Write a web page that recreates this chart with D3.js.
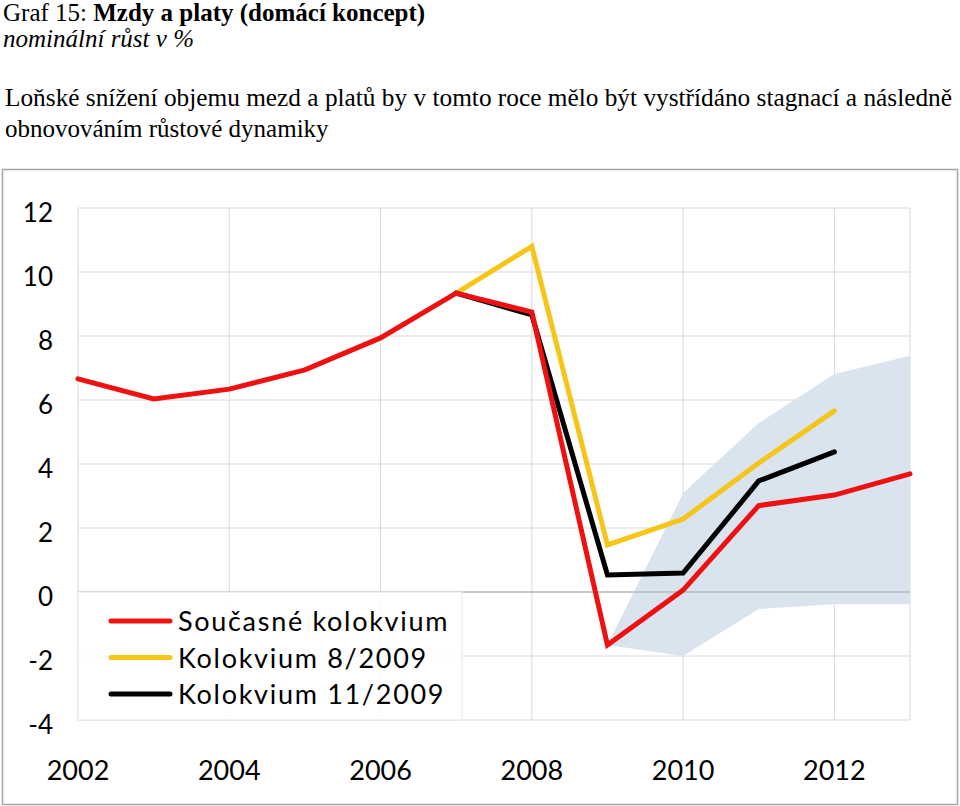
<!DOCTYPE html>
<html><head><meta charset="utf-8">
<script src="https://cdn.jsdelivr.net/npm/d3@7"></script>
<style>body{margin:0;background:#fff}svg{display:block}</style>
</head><body>
<svg id="c" width="960" height="806"></svg>
<script>
const years = [2002,2003,2004,2005,2006,2007,2008,2009,2010,2011,2012,2013];
const yearLabels = ["2002","2004","2006","2008","2010","2012"];
const yTicks = [-4,-2,0,2,4,6,8,10,12];
const current = [6.66,6.03,6.34,6.94,7.94,9.34,8.75,-1.66,0.06,2.70,3.03,3.69];
const aug2009 = [null,null,null,null,null,9.34,10.80,1.47,2.28,4.03,5.66,null];
const nov2009 = [null,null,null,null,null,9.34,8.66,0.53,0.59,3.47,4.38,null];
const bandLow  = [null,null,null,null,null,null,null,-1.66,-2.00,-0.53,-0.38,-0.38];
const bandHigh = [null,null,null,null,null,null,null,-1.66,3.09,5.28,6.81,7.38];
const seriesNames = ["Současné kolokvium","Kolokvium 8/2009","Kolokvium 11/2009"];

const svg = d3.select("#c");
const x = d3.scalePoint().domain(years).range([78,910]);
const y = d3.scaleLinear().domain([-4,12]).range([720,208]);

// outer border
svg.append("rect").attr("x",2.5).attr("y",169.5).attr("width",955).attr("height",635)
  .attr("fill","none").attr("stroke","#a6a6a6").attr("stroke-width",1.5);

// titles
const t = svg.append("text").attr("x",3).attr("y",21).attr("font-family","Liberation Serif").attr("font-size",25);
t.append("tspan").text("Graf 15: ");
t.append("tspan").attr("font-weight","bold").text("Mzdy a platy (domácí koncept)");
svg.append("text").attr("x",3).attr("y",47).attr("font-family","Liberation Serif").attr("font-size",25)
  .attr("font-style","italic").text("nominální růst v %");
svg.append("text").attr("x",5).attr("y",106).attr("font-family","Liberation Serif").attr("font-size",25)
  .attr("textLength",947).attr("lengthAdjust","spacingAndGlyphs")
  .text("Loňské snížení objemu mezd a platů by v tomto roce mělo být vystřídáno stagnací a následně");
svg.append("text").attr("x",5).attr("y",137).attr("font-family","Liberation Serif").attr("font-size",25)
  .text("obnovováním růstové dynamiky");

// grid
const g = svg.append("g");
g.selectAll("line.h").data(yTicks).join("line")
  .attr("x1",78).attr("x2",910).attr("y1",d=>y(d)).attr("y2",d=>y(d))
  .attr("stroke","#d9d9d9").attr("stroke-width",1);
g.selectAll("line.v").data(yearLabels.map(Number)).join("line")
  .attr("x1",d=>x(d)).attr("x2",d=>x(d)).attr("y1",208).attr("y2",720)
  .attr("stroke","#d9d9d9").attr("stroke-width",1);
g.append("line").attr("x1",910).attr("x2",910).attr("y1",208).attr("y2",720)
  .attr("stroke","#d9d9d9").attr("stroke-width",1);

// band
const bandData = years.map((yr,i)=>({yr,lo:bandLow[i],hi:bandHigh[i]})).filter(d=>d.lo!=null);
svg.append("path").datum(bandData)
  .attr("d",d3.area().x(d=>x(d.yr)).y0(d=>y(d.lo)).y1(d=>y(d.hi)))
  .attr("fill","#dae4ef");

// zero line
svg.append("line").attr("x1",78).attr("x2",910).attr("y1",y(0)).attr("y2",y(0))
  .attr("stroke","#a6a6a6").attr("stroke-width",1.2);

// lines
const line = d3.line().defined(d=>d.v!=null).x(d=>x(d.yr)).y(d=>y(d.v));
const colors = ["#ee1111","#f5c518","#000000"];
const allSeries = [current,aug2009,nov2009];
[1,2,0].forEach(k=>{
  svg.append("path").datum(years.map((yr,i)=>({yr,v:allSeries[k][i]})))
    .attr("d",line).attr("fill","none").attr("stroke",colors[k])
    .attr("stroke-width",5).attr("stroke-linejoin","miter").attr("stroke-linecap","round");
});

// legend
svg.append("rect").attr("x",78).attr("y",592).attr("width",384).attr("height",128)
  .attr("fill","#fff").attr("fill-opacity",0.88).attr("stroke","#e6e6e6");
seriesNames.forEach((n,i)=>{
  const ly = 621 + i*36.5;
  svg.append("line").attr("x1",111).attr("x2",170).attr("y1",ly).attr("y2",ly)
    .attr("stroke",colors[i]).attr("stroke-width",5).attr("stroke-linecap","round");
  svg.append("text").attr("x",178).attr("y",ly+10).attr("font-family","Lato").attr("font-size",27)
    .attr("letter-spacing",1.7).text(n);
});

// axes labels
svg.selectAll("text.yl").data(yTicks).join("text")
  .attr("x",53).attr("y",d=>y(d)+14).attr("text-anchor","end")
  .attr("font-family","Lato").attr("font-size",26).text(d=>d);
svg.selectAll("text.xl").data(yearLabels).join("text")
  .attr("x",d=>x(Number(d))).attr("y",780).attr("text-anchor","middle")
  .attr("font-family","Lato").attr("font-size",27).text(d=>d);
</script>
</body></html>
